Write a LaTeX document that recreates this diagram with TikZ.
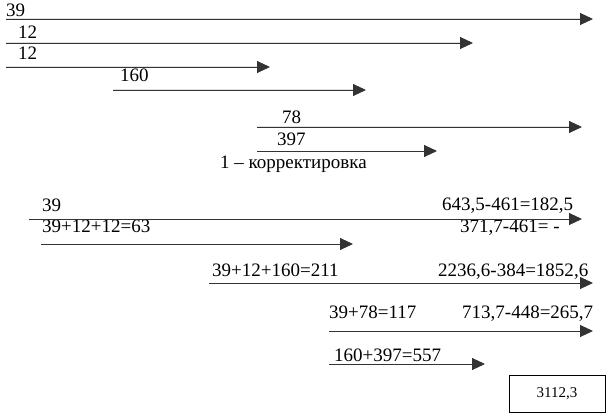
\documentclass[tikz,border=0pt]{standalone}
\usepackage{fontspec}
\setmainfont{Liberation Serif}
\usetikzlibrary{arrows.meta}

\begin{document}
\begin{tikzpicture}[x=1pt, y=-1pt,
	flowarrow/.style={-{Triangle[length=13pt, width=12pt]}, line width=0.9pt, draw=black!80, fill=black},
	lbl/.style={anchor=base west, inner sep=0pt, font=\fontsize{19pt}{21pt}\selectfont},
	totalbox/.style={draw, line width=0.8pt, minimum width=96pt, minimum height=37pt, font=\fontsize{15pt}{17pt}\selectfont}]
		\useasboundingbox (0,0) rectangle (610,417);

		% upper part
		\coordinate (s1) at (6,19);		\coordinate (e1) at (593,19);
		\coordinate (s2) at (6,43);		\coordinate (e2) at (473,43);
		\coordinate (s3) at (6,67);		\coordinate (e3) at (270,67);
		\coordinate (s4) at (113,90);	\coordinate (e4) at (366,90);
		\coordinate (s5) at (257,127);	\coordinate (e5) at (582,127);
		\coordinate (s6) at (257,151);	\coordinate (e6) at (437,151);

		\node[lbl] (a1) at (6,17) {39};
		\node[lbl] (a2) at (18,39) {12};
		\node[lbl] (a3) at (18,60) {12};
		\node[lbl] (a4) at (120,82) {160};
		\node[lbl] (a5) at (282,124) {78};
		\node[lbl] (a6) at (277,146) {397};
		\node[lbl] (corr) at (220,168) {1 – корректировка};

		\draw[flowarrow] (s1) -- (e1);
		\draw[flowarrow] (s2) -- (e2);
		\draw[flowarrow] (s3) -- (e3);
		\draw[flowarrow] (s4) -- (e4);
		\draw[flowarrow] (s5) -- (e5);
		\draw[flowarrow] (s6) -- (e6);

		% lower part
		\coordinate (s7) at (29,219);	\coordinate (e7) at (582,219);
		\coordinate (s8) at (41,244);	\coordinate (e8) at (353,244);
		\coordinate (s9) at (209,283);	\coordinate (e9) at (593,283);
		\coordinate (s10) at (329,331);	\coordinate (e10) at (593,331);
		\coordinate (s11) at (329,364);	\coordinate (e11) at (485,364);

		\node[lbl] (b7) at (42,211) {39};
		\node[lbl] (c7) at (442,210) {643,5-461=182,5};
		\node[lbl] (b8) at (42,232) {39+12+12=63};
		\node[lbl] (c8) at (460,232) {371,7-461= -};
		\node[lbl] (b9) at (212,276) {39+12+160=211};
		\node[lbl] (c9) at (438,276) {2236,6-384=1852,6};
		\node[lbl] (b10) at (329,318) {39+78=117};
		\node[lbl] (c10) at (462,318) {713,7-448=265,7};
		\node[lbl] (b11) at (334,361) {160+397=557};

		\draw[flowarrow] (s7) -- (e7);
		\draw[flowarrow] (s8) -- (e8);
		\draw[flowarrow] (s9) -- (e9);
		\draw[flowarrow] (s10) -- (e10);
		\draw[flowarrow] (s11) -- (e11);

		\node[totalbox] (total) at (557,393.5) {3112,3};

		\end{tikzpicture}
\end{document}
